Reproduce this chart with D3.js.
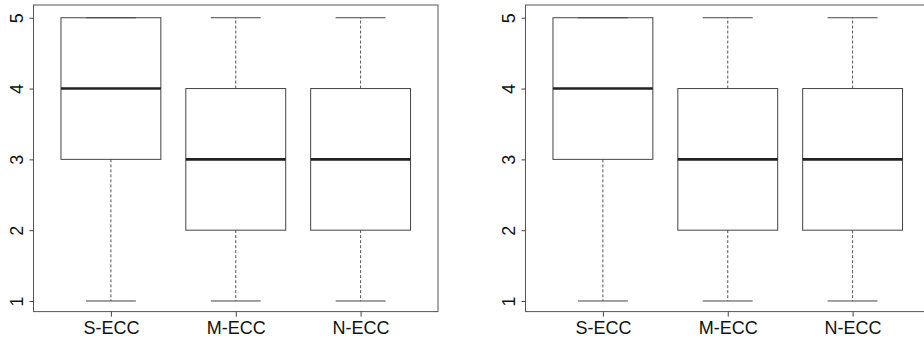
<!DOCTYPE html>
<html>
<head>
<meta charset="utf-8">
<script src="https://cdn.jsdelivr.net/npm/d3@7"></script>
<style>
  body { margin: 0; background: #fff; }
  svg { display: block; }
  text { font-family: "Liberation Sans", Arial, sans-serif; fill: #111; }
</style>
</head>
<body>
<script>
// categories and five-number summaries (min, q1, median, q3, max)
const categories = ["S-ECC", "M-ECC", "N-ECC"];
const leftStats = [
    [1, 3, 4, 5, 5],
    [1, 2, 3, 4, 5],
    [1, 2, 3, 4, 5]
];
const rightStats = [
    [1, 3, 4, 5, 5],
    [1, 2, 3, 4, 5],
    [1, 2, 3, 4, 5]
];
const yTicks = [1, 2, 3, 4, 5];

const svg = d3.select("body").append("svg")
    .attr("width", 924)
    .attr("height", 345);

// R style limits: 0.5..n+0.5 padded a bit on each side
const x = d3.scaleLinear().domain([0.38, 3.62]).range([33.5, 438]);
const y = d3.scaleLinear().domain([0.85, 5.18]).range([311.6, 5]);

function drawPanel(stats, offsetX) {
    const g = svg.append("g").attr("transform", `translate(${offsetX},0)`);

    const data = stats.map((s, i) => ({
        name: categories[i], pos: i + 1,
        min: s[0], q1: s[1], med: s[2], q3: s[3], max: s[4]
    }));

    const boxes = g.selectAll("g.box")
        .data(data)
        .enter()
        .append("g")
        .attr("class", "box");

    // whiskers (dashed)
    boxes.append("line")
        .attr("x1", d => x(d.pos)).attr("x2", d => x(d.pos))
        .attr("y1", d => y(d.q3)).attr("y2", d => y(d.max))
        .attr("stroke", "#555").attr("stroke-dasharray", "3,2");
    boxes.append("line")
        .attr("x1", d => x(d.pos)).attr("x2", d => x(d.pos))
        .attr("y1", d => y(d.q1)).attr("y2", d => y(d.min))
        .attr("stroke", "#555").attr("stroke-dasharray", "3,2");

    // staples
    boxes.append("line")
        .attr("x1", d => x(d.pos - 0.2)).attr("x2", d => x(d.pos + 0.2))
        .attr("y1", d => y(d.max)).attr("y2", d => y(d.max))
        .attr("stroke", "#444");
    boxes.append("line")
        .attr("x1", d => x(d.pos - 0.2)).attr("x2", d => x(d.pos + 0.2))
        .attr("y1", d => y(d.min)).attr("y2", d => y(d.min))
        .attr("stroke", "#444");

    // box
    boxes.append("rect")
        .attr("x", d => x(d.pos - 0.4))
        .attr("y", d => y(d.q3))
        .attr("width", d => x(d.pos + 0.4) - x(d.pos - 0.4))
        .attr("height", d => y(d.q1) - y(d.q3))
        .attr("fill", "none")
        .attr("stroke", "#444");

    // median
    boxes.append("line")
        .attr("x1", d => x(d.pos - 0.4)).attr("x2", d => x(d.pos + 0.4))
        .attr("y1", d => y(d.med)).attr("y2", d => y(d.med))
        .attr("stroke", "#222").attr("stroke-width", 2.6);

    // frame
    g.append("rect")
        .attr("x", x.range()[0]).attr("y", y.range()[1])
        .attr("width", x.range()[1] - x.range()[0])
        .attr("height", y.range()[0] - y.range()[1])
        .attr("fill", "none").attr("stroke", "#555");

    // y axis, labels turned like R's default las=0
    const yAxis = g.append("g")
        .attr("transform", `translate(${x.range()[0]},0)`)
        .call(d3.axisLeft(y).tickValues(yTicks).tickSize(4).tickFormat(d3.format("d")));
    yAxis.select(".domain").remove();
    yAxis.selectAll("line").attr("stroke", "#444");
    yAxis.selectAll("text")
        .attr("transform", "rotate(-90)")
        .attr("x", 0).attr("y", -11).attr("dy", 0)
        .attr("text-anchor", "middle")
        .style("font-size", "18px")
        .style("font-family", "'Liberation Sans', Arial, sans-serif")
        .attr("fill", "#111");

    // x axis
    const xAxis = g.append("g")
        .attr("transform", `translate(0,${y.range()[0]})`)
        .call(d3.axisBottom(x).tickValues([1, 2, 3]).tickSize(5).tickPadding(5)
            .tickFormat(d => categories[d - 1]));
    xAxis.select(".domain").remove();
    xAxis.selectAll("line").attr("stroke", "#444");
    xAxis.selectAll("text")
        .style("font-size", "18px")
        .style("font-family", "'Liberation Sans', Arial, sans-serif")
        .attr("fill", "#111");
}

drawPanel(leftStats, 0);
drawPanel(rightStats, 492);
</script>
</body>
</html>
